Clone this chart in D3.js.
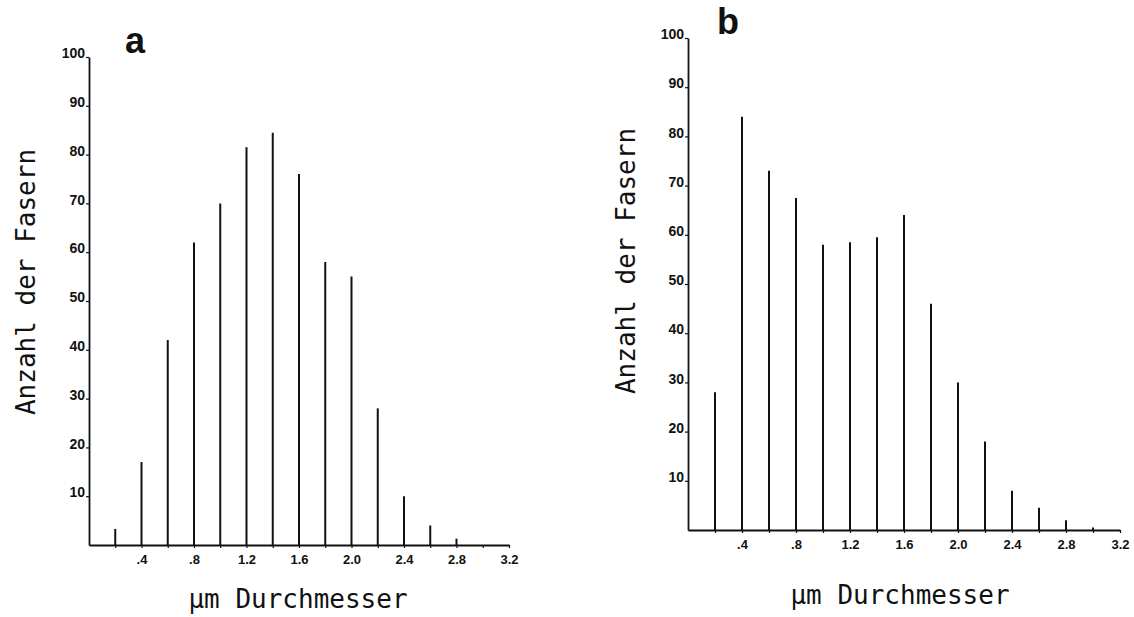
<!DOCTYPE html>
<html>
<head>
<meta charset="utf-8">
<script src="https://cdn.jsdelivr.net/npm/d3@7"></script>
<style>
    body { margin: 0; background: #fff; }
    .tick-y text { font-family: "Liberation Sans Narrow", "Liberation Sans", Arial, sans-serif; font-weight: bold; font-size: 14px; }
    .tick-x text { font-family: "Liberation Sans Narrow", "Liberation Sans", Arial, sans-serif; font-weight: bold; font-size: 13px; }
    .title { font-family: "DejaVu Sans Mono", monospace; font-size: 26px; fill: #111; }
    .panel { font-family: "Liberation Sans", Arial, sans-serif; font-weight: bold; font-size: 36px; fill: #111; }
</style>
</head>
<body>
<div id="chart"></div>
<script>
/*
* Two panels: number of fibres per diameter class (a and b)
*/

// diameter classes in micrometre, one line per class
var diamA = [0.2, 0.4, 0.6, 0.8, 1.0, 1.2, 1.4, 1.6, 1.8, 2.0, 2.2, 2.4, 2.6, 2.8];
var countA = [3.3, 17, 42, 62, 70, 81.5, 84.5, 76, 58, 55, 28, 10, 4, 1.3];

var diamB = [0.2, 0.4, 0.6, 0.8, 1.0, 1.2, 1.4, 1.6, 1.8, 2.0, 2.2, 2.4, 2.6, 2.8, 3.0];
var countB = [28, 84, 73, 67.5, 58, 58.5, 59.5, 64, 46, 30, 18, 8, 4.5, 2, 0.5];

var yTicks = [10, 20, 30, 40, 50, 60, 70, 80, 90, 100];
var xTicks = [0.2, 0.4, 0.6, 0.8, 1.0, 1.2, 1.4, 1.6, 1.8, 2.0, 2.2, 2.4, 2.6, 2.8, 3.0, 3.2];
var xLabels = {0.4: ".4", 0.8: ".8", 1.2: "1.2", 1.6: "1.6", 2.0: "2.0", 2.4: "2.4", 2.8: "2.8", 3.2: "3.2"};

var yTitle = "Anzahl der Fasern";
var xTitle = "\u03bcm Durchmesser";

var svg = d3.select("#chart")
    .append("svg")
    .attr("width", 1134)
    .attr("height", 617);

// each panel: x0/x1 = axis ends, y0 = baseline, yTop = position of 100
drawPanel({
    name: "a", diam: diamA, count: countA,
    x0: 89, x1: 509, y0: 545, yTop: 57,
    yTitleX: 35, yTitleY: 282, xTitleX: 298, xTitleY: 608,
    nameX: 135, nameY: 53
});

drawPanel({
    name: "b", diam: diamB, count: countB,
    x0: 688, x1: 1120, y0: 530, yTop: 38,
    yTitleX: 635, yTitleY: 261, xTitleX: 900, xTitleY: 604,
    nameX: 728, nameY: 34
});

function drawPanel(p) {
    var x = d3.scaleLinear().domain([0, 3.2]).range([p.x0, p.x1]);
    var y = d3.scaleLinear().domain([0, 100]).range([p.y0, p.yTop]);

    var g = svg.append("g");

    // Y axis
    var yAxis = g.append("g")
        .attr("class", "tick-y")
        .attr("transform", "translate(" + p.x0 + ",0)")
        .call(d3.axisLeft(y).tickValues(yTicks).tickSize(3).tickPadding(1).tickSizeOuter(0));
    yAxis.select(".domain").attr("stroke", "#111").attr("stroke-width", 1.8);
    yAxis.selectAll(".tick line").attr("stroke", "#111").attr("stroke-width", 1.2);
    yAxis.selectAll(".tick text").attr("fill", "#111").attr("dy", "0.05em");

    // X axis
    var xAxis = g.append("g")
        .attr("class", "tick-x")
        .attr("transform", "translate(0," + p.y0 + ")")
        .call(d3.axisBottom(x).tickValues(xTicks).tickSize(3).tickPadding(7).tickSizeOuter(0)
            .tickFormat(function (d) {
                return xLabels[Math.round(d * 10) / 10] || "";
            }));
    xAxis.select(".domain").attr("stroke", "#111").attr("stroke-width", 1.8);
    xAxis.selectAll(".tick line").attr("stroke", "#111").attr("stroke-width", 1.2);
    xAxis.selectAll(".tick text").attr("fill", "#111");

    // one thin vertical line per diameter class
    g.append("g")
        .selectAll("line")
        .data(p.count)
        .enter()
        .append("line")
        .attr("x1", function (d, i) { return x(p.diam[i]); })
        .attr("x2", function (d, i) { return x(p.diam[i]); })
        .attr("y1", y(0))
        .attr("y2", function (d) { return y(d); })
        .attr("stroke", "#111")
        .attr("stroke-width", 2);

    // titles
    g.append("text")
        .attr("class", "title")
        .attr("text-anchor", "middle")
        .attr("transform", "translate(" + p.yTitleX + "," + p.yTitleY + ") rotate(-90)")
        .text(yTitle);

    g.append("text")
        .attr("class", "title")
        .attr("text-anchor", "middle")
        .attr("x", p.xTitleX)
        .attr("y", p.xTitleY)
        .text(xTitle);

    g.append("text")
        .attr("class", "panel")
        .attr("text-anchor", "middle")
        .attr("x", p.nameX)
        .attr("y", p.nameY)
        .text(p.name);
}
</script>
</body>
</html>
